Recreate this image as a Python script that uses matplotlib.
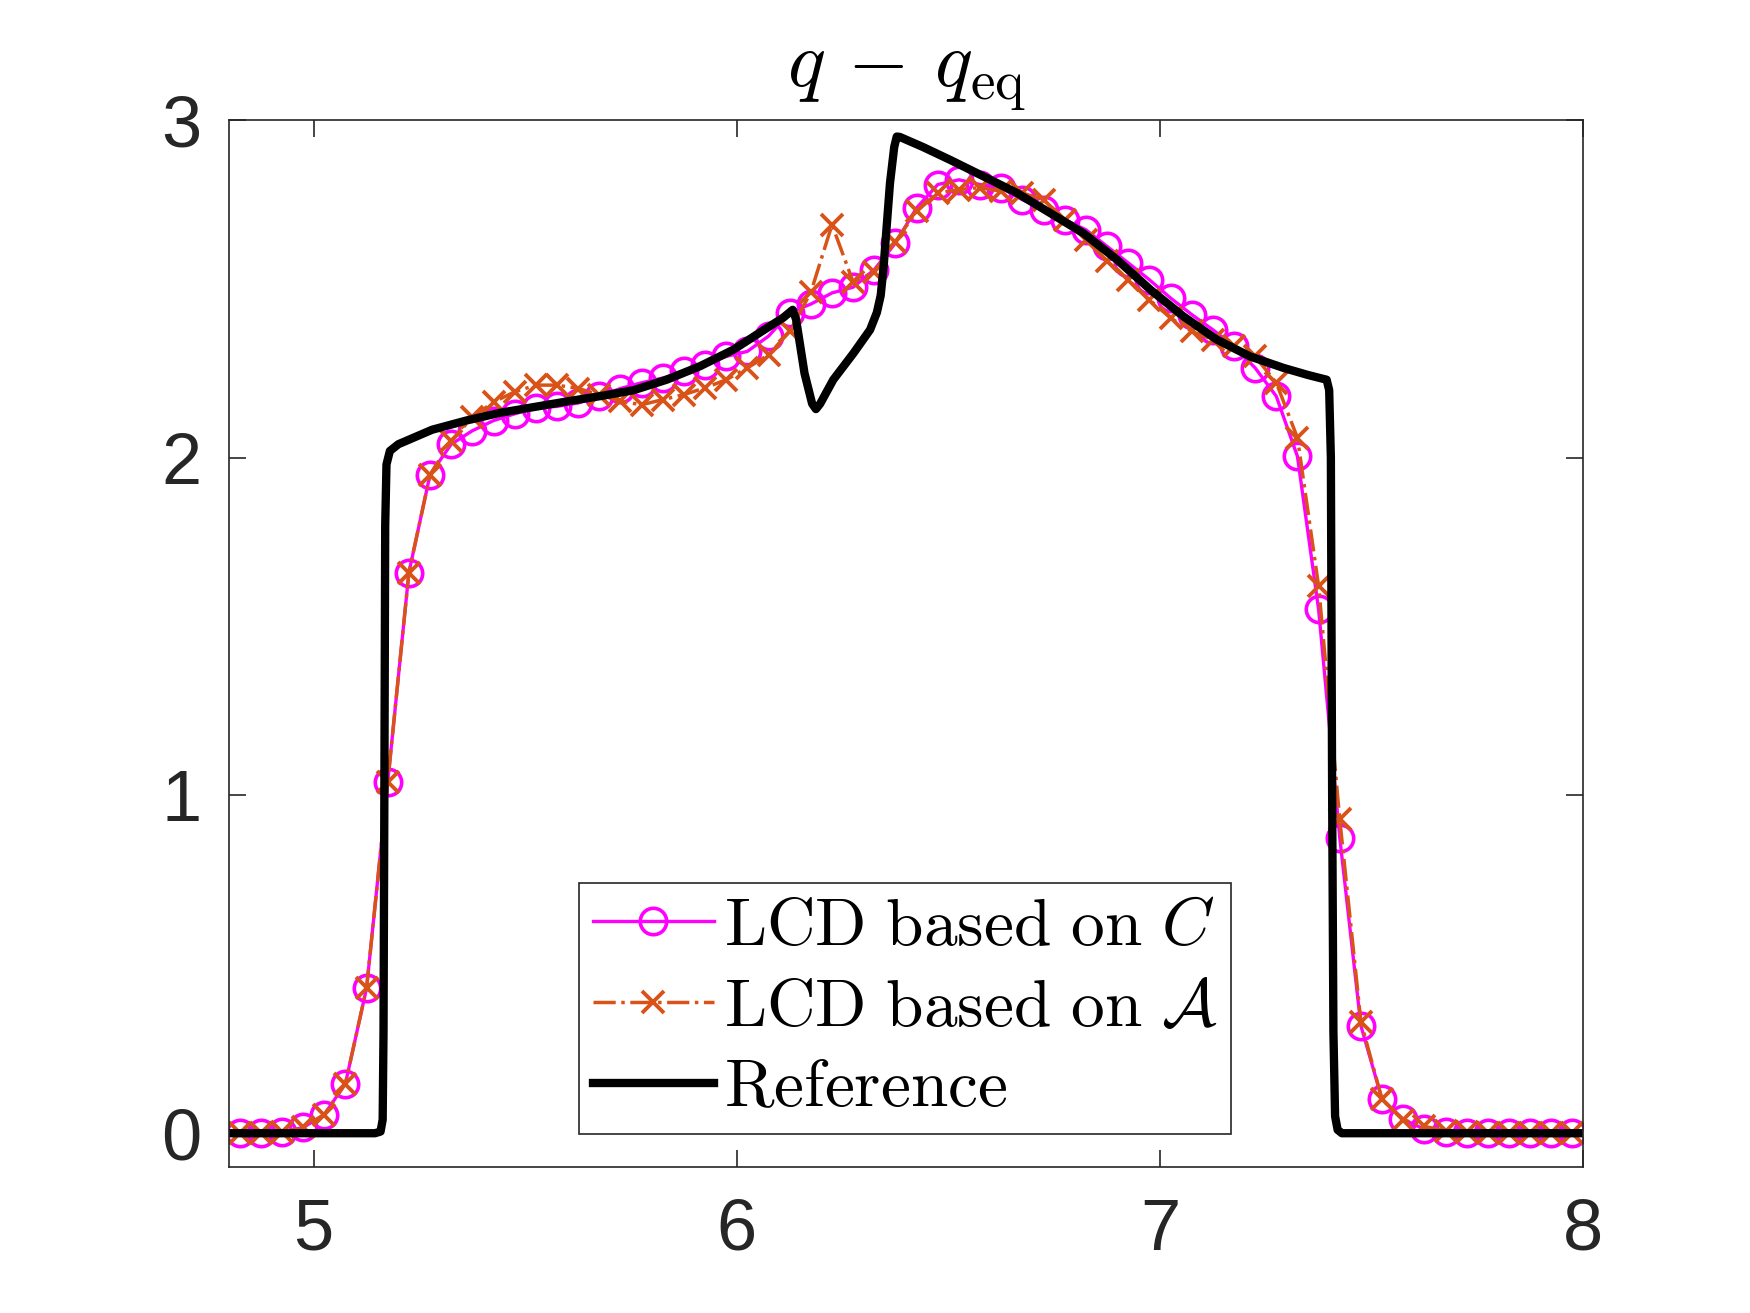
import numpy as np
import matplotlib.pyplot as plt

# cell centres (uniform grid, 0.05 spacing)
x_cells = [4.825, 4.875, 4.925, 4.975, 5.025, 5.075, 5.125, 5.175, 5.225, 5.275,
           5.325, 5.375, 5.425, 5.475, 5.525, 5.575, 5.625, 5.675, 5.725, 5.775,
           5.825, 5.875, 5.925, 5.975, 6.025, 6.075, 6.125, 6.175, 6.225, 6.275,
           6.325, 6.375, 6.425, 6.475, 6.525, 6.575, 6.625, 6.675, 6.725, 6.775,
           6.825, 6.875, 6.925, 6.975, 7.025, 7.075, 7.125, 7.175, 7.225, 7.275,
           7.325, 7.375, 7.425, 7.475, 7.525, 7.575, 7.625, 7.675, 7.725, 7.775,
           7.825, 7.875, 7.925, 7.975]

# LCD based on C
q_C = [0.0, 0.0, 0.003, 0.017, 0.055, 0.147, 0.43, 1.04, 1.66, 1.95,
       2.04, 2.08, 2.11, 2.13, 2.148, 2.152, 2.162, 2.182, 2.205, 2.222,
       2.236, 2.256, 2.276, 2.30, 2.315, 2.36, 2.43, 2.455, 2.488, 2.505,
       2.557, 2.636, 2.74, 2.809, 2.823, 2.809, 2.799, 2.764, 2.735, 2.705,
       2.675, 2.626, 2.577, 2.527, 2.473, 2.424, 2.379, 2.33, 2.266, 2.182,
       2.004, 1.551, 0.875, 0.318, 0.10, 0.041, 0.012, 0.005, 0.002, 0.0,
       0.0, 0.0, 0.0, 0.0]

# LCD based on A
q_A = [0.0, 0.0, 0.003, 0.017, 0.055, 0.147, 0.43, 1.04, 1.66, 1.95,
       2.05, 2.12, 2.165, 2.195, 2.215, 2.215, 2.205, 2.187, 2.167, 2.157,
       2.172, 2.187, 2.207, 2.231, 2.266, 2.305, 2.374, 2.49, 2.69, 2.52,
       2.55, 2.64, 2.73, 2.784, 2.794, 2.80, 2.789, 2.784, 2.764, 2.705,
       2.646, 2.582, 2.527, 2.468, 2.414, 2.374, 2.35, 2.33, 2.30, 2.222,
       2.059, 1.62, 0.929, 0.33, 0.10, 0.04, 0.02, 0.008, 0.003, 0.0,
       0.0, 0.0, 0.0, 0.0]

# reference solution (fine grid)
x_ref = [4.8, 5.145, 5.158, 5.163, 5.165, 5.167, 5.169, 5.172, 5.18, 5.20,
         5.28, 5.36, 5.44, 5.52, 5.60, 5.68, 5.756, 5.834, 5.913, 5.992,
         6.071, 6.11, 6.132, 6.140, 6.16, 6.178, 6.187, 6.197, 6.228, 6.276,
         6.315, 6.331, 6.340, 6.347, 6.362, 6.372, 6.378, 6.385, 6.44, 6.504,
         6.58, 6.662, 6.74, 6.819, 6.898, 6.977, 7.055, 7.134, 7.213, 7.292,
         7.35, 7.394, 7.400, 7.404, 7.407, 7.41, 7.414, 7.42, 7.43, 8.0]
y_ref = [0.0, 0.0, 0.005, 0.04, 0.3, 1.0, 1.8, 1.98, 2.02, 2.04,
         2.083, 2.11, 2.133, 2.15, 2.167, 2.183, 2.20, 2.231, 2.271, 2.32,
         2.384, 2.415, 2.438, 2.41, 2.25, 2.16, 2.144, 2.16, 2.231, 2.31,
         2.379, 2.43, 2.48, 2.567, 2.813, 2.92, 2.951, 2.95, 2.92, 2.882,
         2.835, 2.784, 2.725, 2.665, 2.587, 2.498, 2.419, 2.35, 2.30, 2.266,
         2.245, 2.231, 2.2, 2.0, 1.0, 0.3, 0.05, 0.01, 0.0, 0.0]

plt.rcParams['mathtext.fontset'] = 'cm'
plt.rcParams['font.family'] = ['Liberation Sans', 'DejaVu Sans']

fig = plt.figure(figsize=(17.5, 13.13), dpi=100)
ax = fig.add_axes([0.1309, 0.1112, 0.7737, 0.7974])

ax.plot(x_cells, q_C, '-o', color='#FF00FF', lw=2.4, ms=19, mew=2.6,
        mfc='none', label=r'$\mathrm{LCD\ based\ on\ }C$')
ax.plot(x_cells, q_A, '-.x', color='#D95319', lw=2.5, ms=16, mew=2.8,
        label=r'$\mathrm{LCD\ based\ on\ }\mathcal{A}$')
ax.plot(x_ref, y_ref, '-', color='black', lw=6.0, label=r'$\mathrm{Reference}$')

ax.set_xlim(4.8, 8)
ax.set_ylim(-0.1, 3)
ax.set_xticks([5, 6, 7, 8])
ax.set_yticks([0, 1, 2, 3])
ax.tick_params(direction='in', length=12, width=1.2, labelsize=52,
               colors='#262626', top=True, right=True)
ax.tick_params(axis='x', pad=22)
ax.tick_params(axis='y', pad=20)
for s in ax.spines.values():
    s.set_color('#262626')
    s.set_linewidth(1.2)

ax.set_title(r'$q\,-\,q_{\mathrm{eq}}$', fontsize=57, pad=24)

leg = ax.legend(loc='lower left', bbox_to_anchor=(0.2585, 0.0315),
                borderaxespad=0, fontsize=48.5, handlelength=1.8,
                handletextpad=0.15, labelspacing=0.28, borderpad=0.2,
                fancybox=False, framealpha=1, edgecolor='#262626',
                markerscale=1.0)
leg.get_frame().set_linewidth(1.2)

fig.savefig('out.png', dpi=100)
